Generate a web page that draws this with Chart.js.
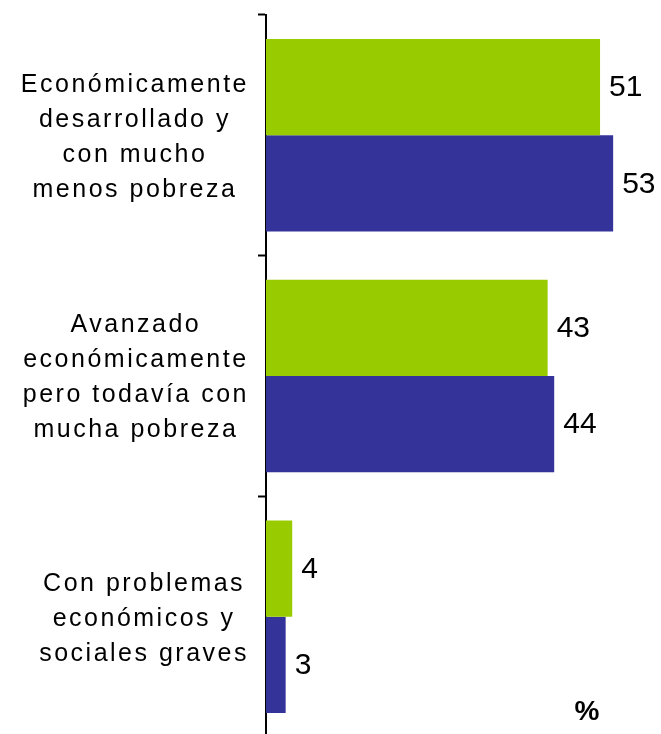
<!DOCTYPE html>
<html>
<head>
<meta charset="utf-8">
<script src="https://cdn.jsdelivr.net/npm/chart.js@4"></script>
<style>
  html, body { margin: 0; padding: 0; background: #ffffff; overflow: hidden; }
  #wrap { width: 661px; height: 737px; position: relative; }
</style>
</head>
<body>
<div id="wrap"><canvas id="c"></canvas></div>
<script>
// ---- data ----
const categories = [
  ["Económicamente", "desarrollado y", "con mucho", "menos pobreza"],
  ["Avanzado", "económicamente", "pero todavía con", "mucha pobreza"],
  ["Con problemas", "económicos y", "sociales graves"]
];
const seriesGreen = [51, 43, 4];
const seriesBlue = [53, 44, 3];
const unitLabel = "%";
const xMin = 0;
const xMax = 60;

const FONT = "'Liberation Sans', Arial, sans-serif";
const SPACING = '2.5px';

const spacingPlugin = {
  id: 'spacing',
  beforeLayout(chart) { chart.ctx.letterSpacing = SPACING; },
  beforeDraw(chart) {
    chart.ctx.letterSpacing = SPACING;
    const scale = chart.scales.y;
    const items = scale.getLabelItems(chart.chartArea);
    if (items._aligned) return;
    items._aligned = true;
    const sizes = scale._getLabelSizes();
    const widest = sizes.widest.width;
    items.forEach((item, i) => {
      const w = sizes.widths[i];
      item.options.translation[0] += (widest - w) / 2;
      item.options.translation[1] += 2;
    });
  }
};

const valueLabelPlugin = {
  id: 'valueLabels',
  afterDatasetsDraw(chart) {
    const ctx = chart.ctx;
    ctx.save();
    ctx.letterSpacing = '0px';
    ctx.font = "30px " + FONT;
    ctx.fillStyle = '#000000';
    ctx.textAlign = 'left';
    ctx.textBaseline = 'middle';
    chart.data.datasets.forEach((ds, di) => {
      const meta = chart.getDatasetMeta(di);
      meta.data.forEach((el, i) => {
        ctx.fillText(String(ds.data[i]), el.x + 9, el.y + 1);
      });
    });
    ctx.font = "bold 28px " + FONT;
    ctx.textAlign = 'center';
    ctx.fillText(unitLabel, 587, 712);
    ctx.restore();
  }
};

new Chart(document.getElementById('c'), {
  type: 'bar',
  data: {
    labels: categories,
    datasets: [
      { label: 'Serie 1', data: seriesGreen, backgroundColor: '#99CC00', borderWidth: 0,
        categoryPercentage: 0.8, barPercentage: 1.0 },
      { label: 'Serie 2', data: seriesBlue, backgroundColor: '#333399', borderWidth: 0,
        categoryPercentage: 0.8, barPercentage: 1.0 }
    ]
  },
  options: {
    indexAxis: 'y',
    responsive: true,
    maintainAspectRatio: false,
    animation: false,
    layout: { padding: { top: 15, bottom: 0, left: 0, right: 2 } },
    plugins: {
      legend: { display: false },
      tooltip: { enabled: false }
    },
    scales: {
      x: {
        display: false,
        min: xMin,
        max: xMax
      },
      y: {
        z: 1,
        afterFit(scale) {
          scale.width = 266;
          scale.paddingTop = 0;
          scale.paddingBottom = 0;
        },
        grid: {
          offset: true,
          drawOnChartArea: false,
          drawTicks: true,
          tickLength: 8,
          tickWidth: 2,
          tickColor: '#000000'
        },
        border: { display: true, color: '#000000', width: 2 },
        ticks: {
          crossAlign: 'center',
          padding: 9,
          color: '#000000',
          font: { family: FONT, size: 25, lineHeight: 1.4 }
        }
      }
    }
  },
  plugins: [spacingPlugin, valueLabelPlugin]
});
</script>
</body>
</html>
